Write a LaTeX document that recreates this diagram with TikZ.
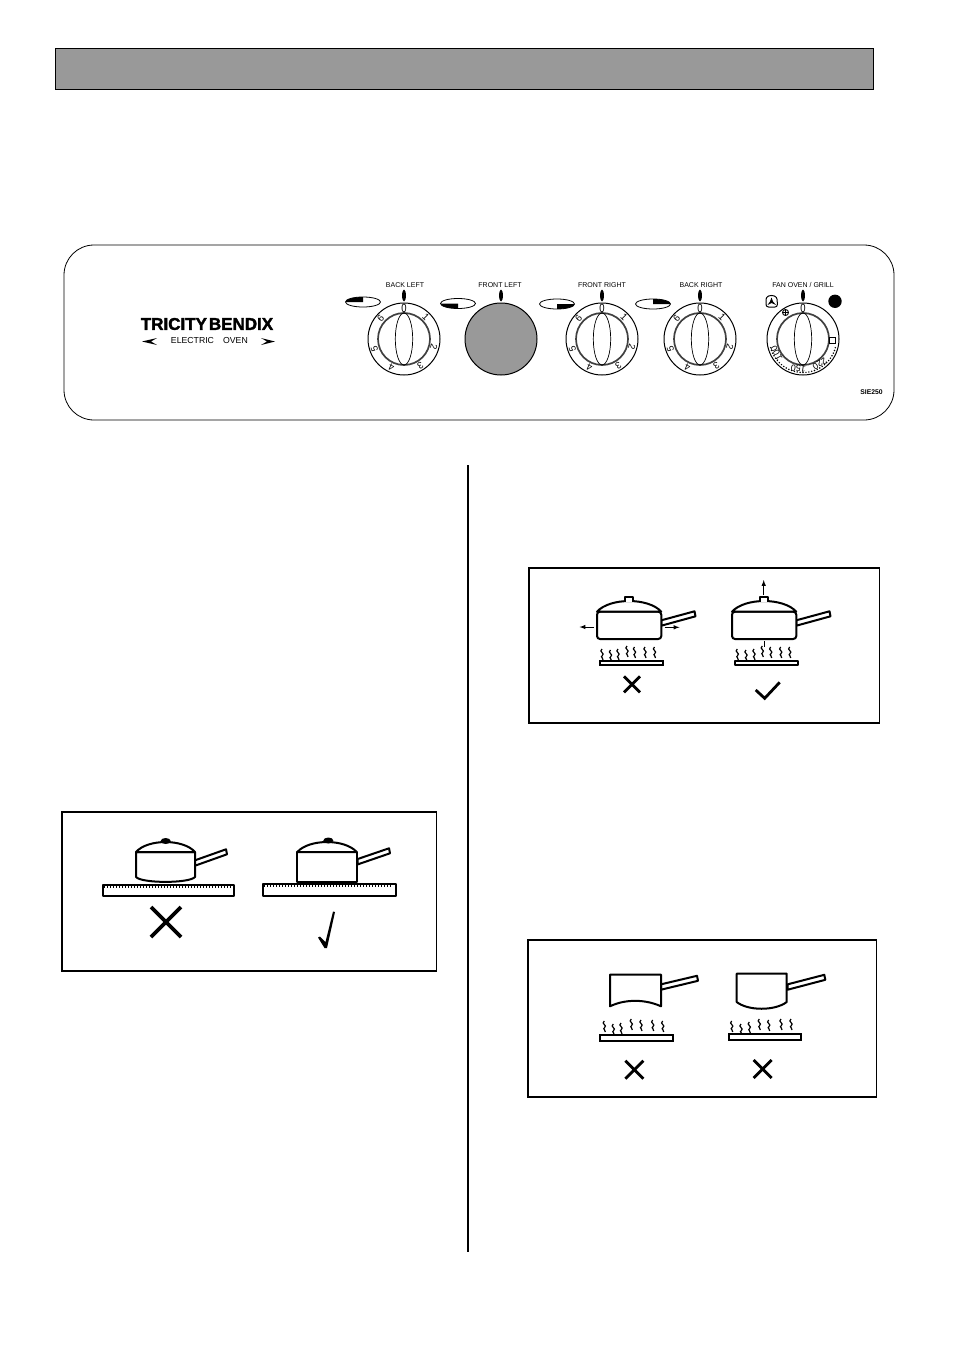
\documentclass[tikz,border=0pt]{standalone}
\usepackage{graphicx}
\usepackage{fontspec}
\setmainfont{Liberation Sans}
\newfontfamily\logofont{Liberation Sans}[BoldFeatures={FakeBold=2}]
\newcommand{\fsz}[1]{\fontsize{#1}{#1}\selectfont}
\tikzset{
  boxline/.style={draw=black,line width=1.5},
  panline/.style={draw=black,fill=white,line width=2,line join=round},
  markline/.style={draw=black,line width=2.8},
  heatline/.style={draw=black,line width=1.2},
  ringnum/.style={inner sep=0pt,font=\fsz{9.5}},
  dialtitle/.style={inner sep=0pt,font=\fsz{7}},
  arrowline/.style={draw=black,line width=1,-latex}
}
% dial rings, x y
\newcommand{\dialrings}[2]{
  \draw[line width=1] (#1,#2) circle (36);
  \draw[line width=1.7,draw=black!75] (#1,#2) circle (26);
  \draw[line width=.7] (#1,#2) ellipse (8.7 and 26);
  \fill (#1,#2-43.5) ellipse (1.9 and 6);
  \node[ringnum] (zero#1) at (#1,#2-31) {\scalebox{1}[1.25]{0}};
}
% dial with numbers, name x y
\newcommand{\numdial}[3]{
  \dialrings{#2}{#3}
  \foreach \num/\ang in {1/45,2/105,3/148,4/204,5/252,6/311}
    \node[ringnum,rotate=-\ang] (#1n\num) at ({#2+31*sin(\ang)},{#3-31*cos(\ang)}) {\num};
}
% setting ellipse, x y start end
\newcommand{\setmark}[4]{
  \begin{scope}
    \clip (#1,#2) ellipse (17.5 and 5);
    \fill (#1,#2) -- ++(#3:20) arc (#3:#4:20) -- cycle;
  \end{scope}
  \draw[line width=.8] (#1,#2) ellipse (17.5 and 5);
}
% x1 x2 rim top
\newcommand{\panlid}[4]{
  \draw[panline] (#1,#3) .. controls ({#1+.2*(#2-#1)},{#3-1.33*(#3-#4)}) and ({#2-.2*(#2-#1)},{#3-1.33*(#3-#4)}) .. (#2,#3) -- cycle;
}
% x1 y1 x2 y2
\newcommand{\panhandle}[4]{
  \draw[panline] (#1,#2-2.7) -- (#3,#4-2.7) -- (#3+1,#4+2.3) -- (#1,#2+2.7) -- cycle;
}
\newcommand{\heat}[2]{
  \draw[heatline] (#1,#2) .. controls (#1-4,#2+3) and (#1+4,#2+4) .. (#1,#2+7) .. controls (#1-2,#2+8) and (#1+2,#2+9) .. (#1+1,#2+11);
}
% x1 y1 x2 y2 of hob with ruler
\newcommand{\rulerhob}[4]{
  \draw[panline] (#1,#2) rectangle (#3,#4);
  \foreach \tx in {2,5,...,130}
    \pgfmathparse{#1+\tx<#3-1?1:0}
    \ifnum\pgfmathresult=1
      \draw[line width=.6] ({#1+\tx},#2) -- ++(0,3);
    \fi
}
\newcommand{\crossmark}[4][2.8]{
  \draw[markline,line width=#1] (#2-#4,#3-#4) -- (#2+#4,#3+#4) (#2-#4,#3+#4) -- (#2+#4,#3-#4);
}
\begin{document}
\begin{tikzpicture}[x=1pt,y=-1pt]
  \useasboundingbox (0,0) rectangle (954,1351);

  \draw[line width=1,fill=black!40] (55,48.5) rectangle (873.7,90);
  \draw[line width=2] (468,465) -- (468,1252);

  % control panel
  \draw[line width=.8,rounded corners=30] (64,245) rectangle (894,420);
  \node[inner sep=0pt,font=\logofont\bfseries\fsz{17}] (logo) at (207,324) {TRICITY\hspace{2pt}BENDIX};
  \node[inner sep=0pt,font=\fsz{8.7}] (electric) at (192.5,341) {ELECTRIC};
  \node[inner sep=0pt,font=\fsz{8.7}] (oven) at (235.5,341) {OVEN};
  \fill (157,338) -- (142,341.5) -- (157,345) -- (151,341.5) -- cycle;
  \fill (261,338) -- (275,341.5) -- (261,345) -- (267,341.5) -- cycle;
  \node[inner sep=0pt,font=\bfseries\fsz{6.8}] (code) at (871.5,392) {SIE250};

  \node[dialtitle] (backleft) at (405,285) {BACK LEFT};
  \node[dialtitle] (frontleft) at (500,285) {FRONT LEFT};
  \node[dialtitle] (frontright) at (602,285) {FRONT RIGHT};
  \node[dialtitle] (backright) at (701,285) {BACK RIGHT};
  \node[dialtitle] (fanoven) at (803,285) {FAN OVEN / GRILL};

  \setmark{363}{302}{180}{270}
  \setmark{458}{303.5}{90}{180}
  \setmark{557}{304}{0}{90}
  \setmark{653}{304}{270}{360}

  \numdial{bl}{404}{339}
  \numdial{fr}{602}{339}
  \numdial{br}{700}{339}

  \draw[line width=1,fill=black!40] (501,339) circle (36);
  \fill (501,295.5) ellipse (1.9 and 6);

  % fan oven dial
  \dialrings{803}{339}
  \foreach \ang in {105,110,...,255}
    \fill ({803+33.5*sin(\ang)},{339-33.5*cos(\ang)}) circle (.8);
  \node[ringnum,rotate=-146] (t220) at ({803+30*sin(146)},{339-30*cos(146)}) {\fsz{9}220};
  \node[ringnum,rotate=-189] (t150) at ({803+30*sin(189)},{339-30*cos(189)}) {\fsz{9}150};
  \node[ringnum,rotate=-242] (t100) at ({803+30*sin(242)},{339-30*cos(242)}) {\fsz{9}100};
  \draw[line width=.8,fill=white] (829.5,337.5) rectangle (835.5,343.5);
  \draw[line width=.9,fill=white] (785.5,312.5) circle (3);
  \draw[line width=.5] (782.5,312.5) -- (788.5,312.5) (785.5,309.5) -- (785.5,315.5);
  \draw[line width=1,rounded corners=2.5] (766,297) -- (771.5,295) -- (777,297) -- (777.5,307) -- (766,307) -- cycle;
  \fill (771.5,297.5) -- (773,301.5) -- (776,305) -- (771.5,303) -- (767.5,305) -- (770,301.5) -- cycle;
  \fill (835,301.3) circle (6.7);

  % box with pans on ruler
  \draw[boxline] (62,812) rectangle (436.5,971);
  \draw[panline] (136,852) -- (136,877) .. controls (142,883.5) and (189,883.5) .. (195,877) -- (195,852) -- cycle;
  \panlid{136}{195}{852}{842}
  \fill (165.7,841) ellipse (5 and 3);
  \panhandle{195}{863}{226}{852}
  \rulerhob{102.7}{885}{233.7}{896}
  \crossmark[3.6]{166}{922}{15}
  \draw[panline] (297.3,852) rectangle (356.7,882);
  \panlid{297.3}{356.7}{852}{842}
  \fill (328.3,840.5) ellipse (5 and 3);
  \panhandle{357.7}{861.7}{389}{851}
  \rulerhob{262.7}{884}{396}{895.7}
  \fill (318,937.5) -- (320,936.5) -- (325.5,942) -- (333,911.5) -- (335,912) -- (327,948) -- (324.5,948) -- cycle;

  % box with heat and arrows
  \draw[boxline] (529,568) rectangle (879.5,723);
  \panhandle{661.3}{623}{694.5}{614}
  \draw[panline,rounded corners=3] (597,611.7) rectangle (661.3,639);
  \panlid{597}{661.3}{611.7}{601}
  \draw[panline] (625.3,602) -- (625.3,597.3) -- (633.3,597.3) -- (633.3,602);
  \foreach \hx/\hy in {602/649,610.5/650,618/649,627/646,634.5/647,645/647,654.5/647}
    \heat{\hx}{\hy}
  \draw[panline] (600,661) rectangle (663.3,665);
  \draw[arrowline] (594,627) -- (579.5,627);
  \draw[arrowline] (664.7,627.3) -- (679.5,627.3);
  \crossmark{632}{684.3}{8}
  \panhandle{796.3}{623}{829.5}{614}
  \draw[panline,rounded corners=3] (732,611.7) rectangle (796.3,639);
  \panlid{732}{796.3}{611.7}{601}
  \draw[panline] (760.3,602) -- (760.3,597.3) -- (768,597.3) -- (768,602);
  \foreach \hx/\hy in {737.3/649,746/650,754/649,762.3/646,770.7/647,780.7/647,789.7/647}
    \heat{\hx}{\hy}
  \draw[line width=.8] (764.3,641) -- (764.3,646.7);
  \draw[panline] (735.3,661) rectangle (798.3,665);
  \draw[arrowline] (763.7,595) -- (763.7,580);
  \draw[markline] (755.7,690) -- (764.7,698.3) -- (779.7,682.3);

  % box with bad pan bases
  \draw[boxline] (528,940) rectangle (876.5,1097);
  \panhandle{661}{987}{697}{978.5}
  \draw[panline] (610,974.7) -- (661,974.7) -- (661,1006.3) .. controls (645,999) and (625,999) .. (610,1006.3) -- cycle;
  \foreach \hx/\hy in {604.3/1021,613.3/1024,621/1023,631.3/1019,641/1020,652.7/1020,662.7/1021}
    \heat{\hx}{\hy}
  \draw[panline] (600.3,1035) rectangle (672.7,1041);
  \crossmark{634.3}{1069.7}{9}
  \panhandle{787.7}{987}{824.3}{977.5}
  \draw[panline] (736.7,973.7) -- (786.7,973.7) -- (786.7,1002) .. controls (775,1011) and (748,1011) .. (736.7,1002) -- cycle;
  \foreach \hx/\hy in {731.7/1021,741/1024,749.3/1022,759.3/1019,768.7/1020,781/1019,791/1019}
    \heat{\hx}{\hy}
  \draw[panline] (728.7,1034) rectangle (800.7,1040);
  \crossmark{762.7}{1069}{9}
\end{tikzpicture}
\end{document}
